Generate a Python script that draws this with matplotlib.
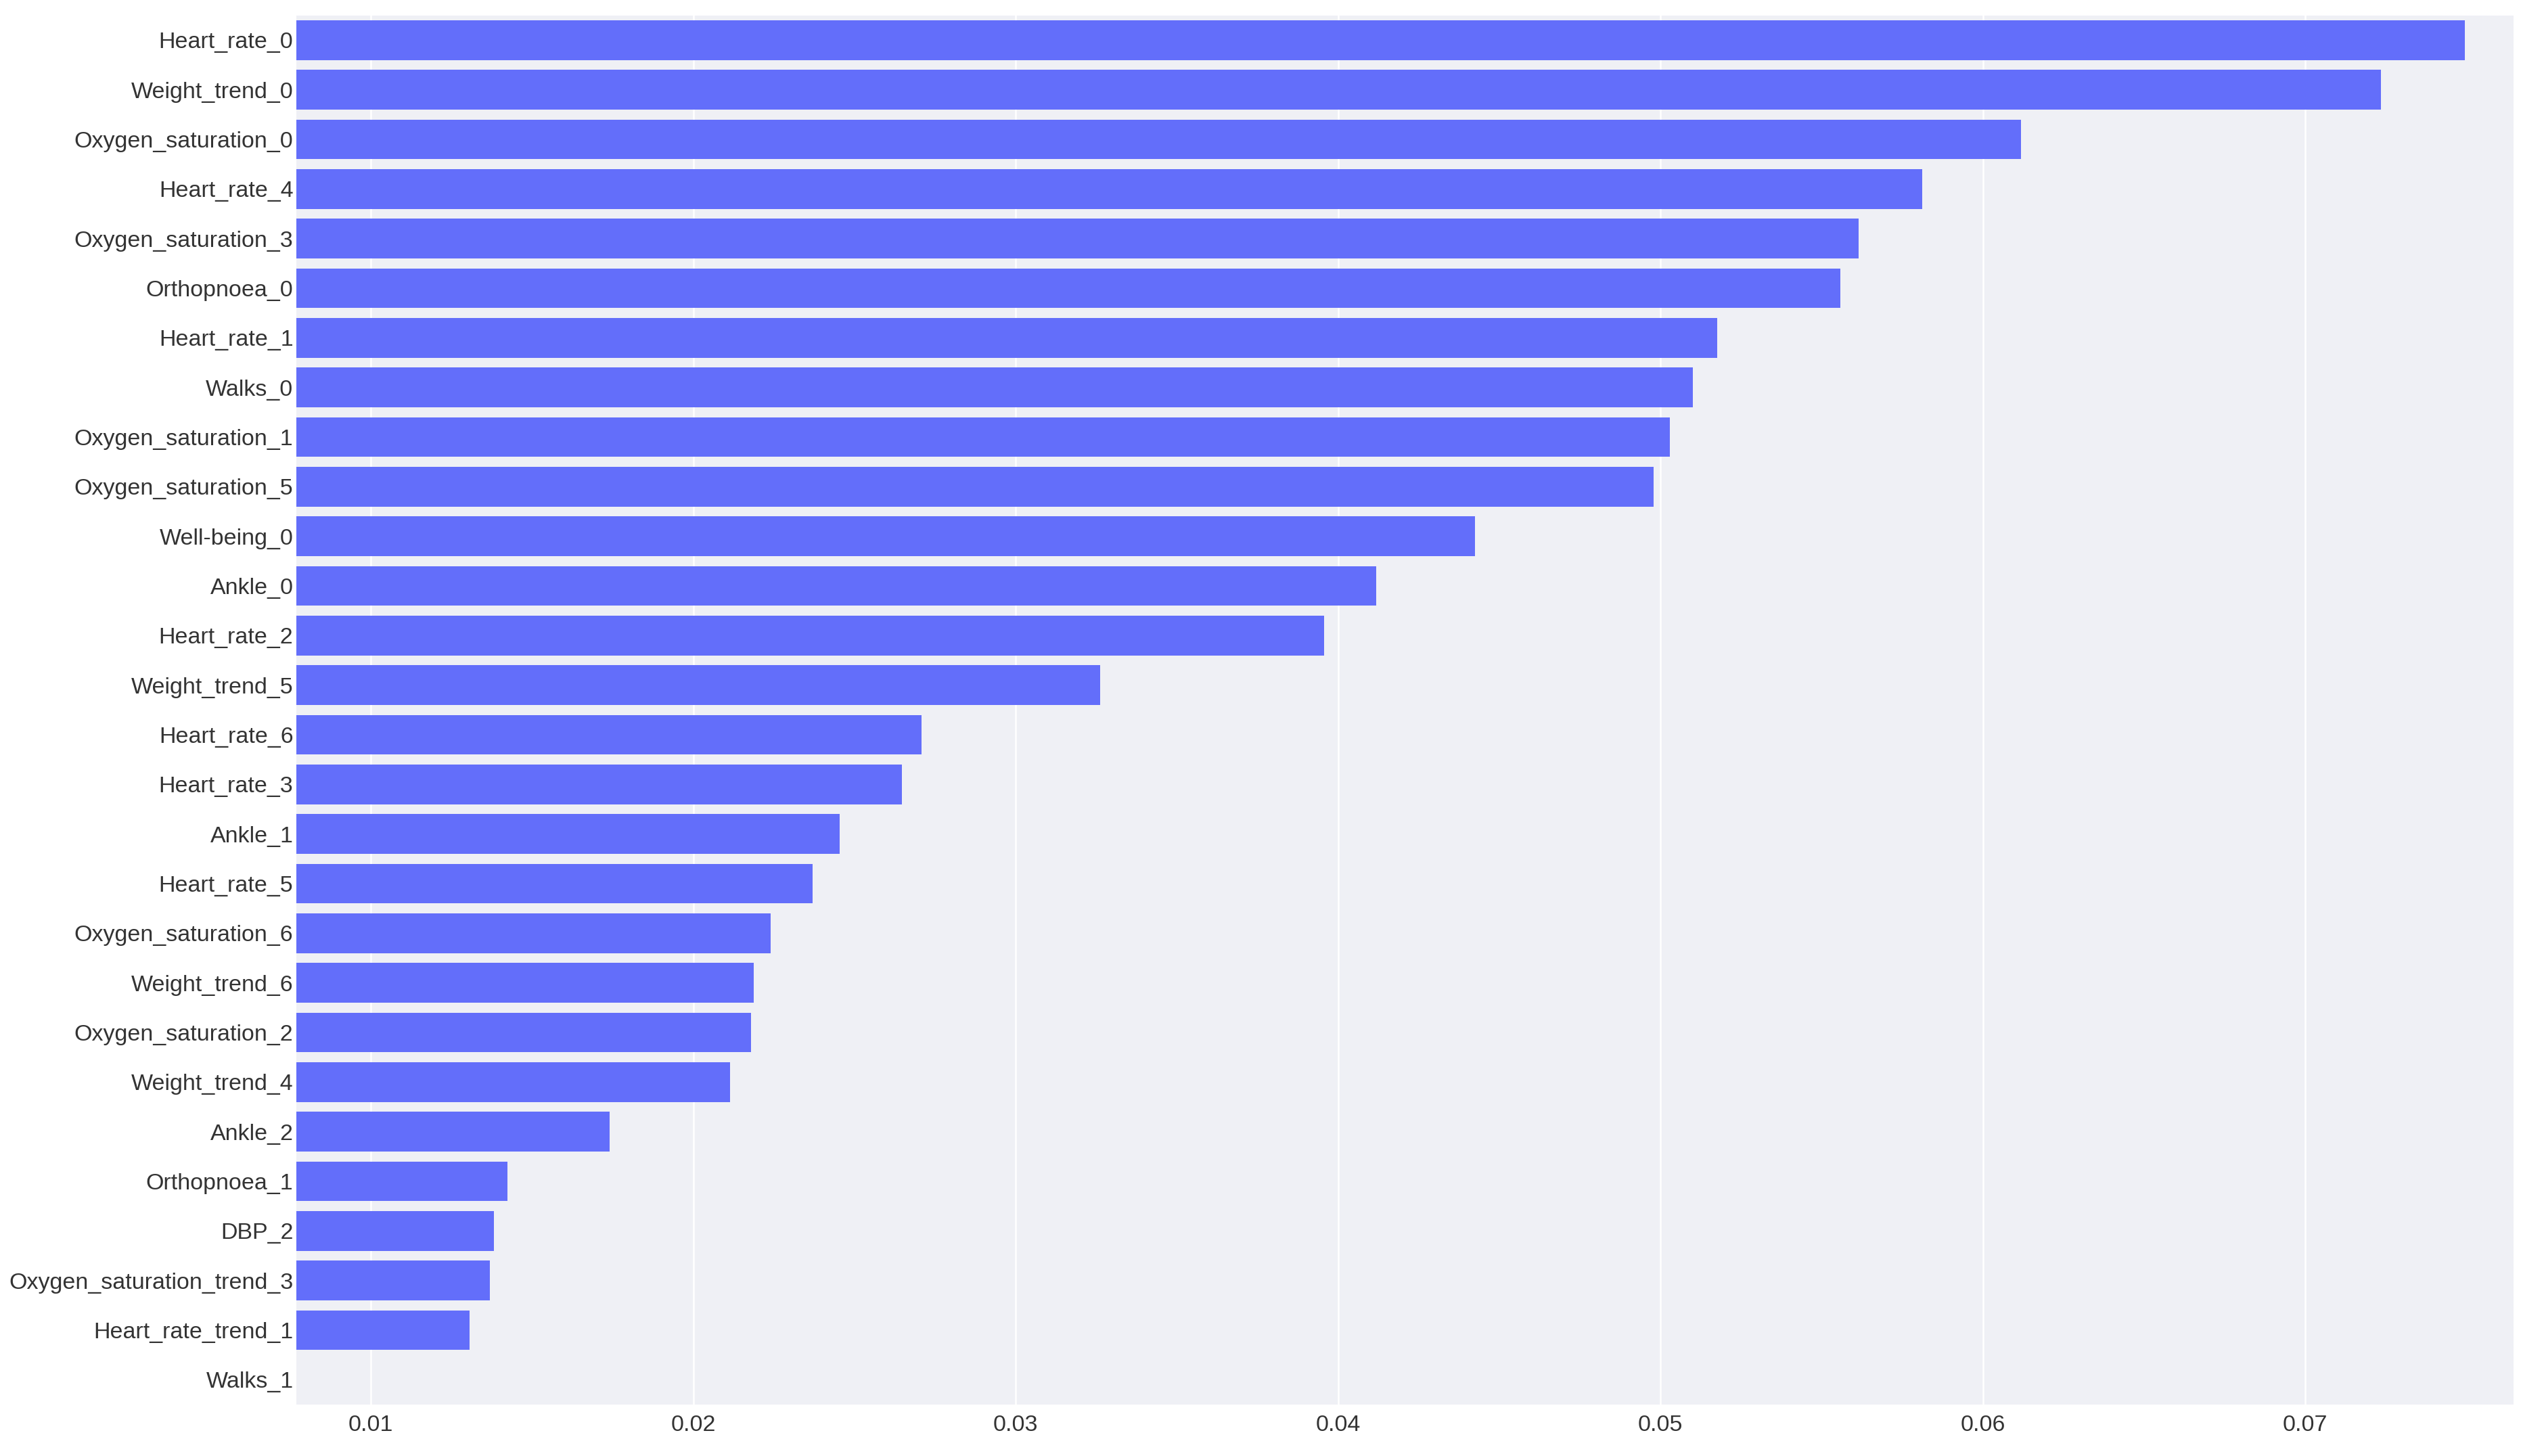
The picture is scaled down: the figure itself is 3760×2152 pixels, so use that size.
import matplotlib.pyplot as plt

# feature importances, top to bottom
features = [
    "Heart_rate_0", "Weight_trend_0", "Oxygen_saturation_0", "Heart_rate_4",
    "Oxygen_saturation_3", "Orthopnoea_0", "Heart_rate_1", "Walks_0",
    "Oxygen_saturation_1", "Oxygen_saturation_5", "Well-being_0", "Ankle_0",
    "Heart_rate_2", "Weight_trend_5", "Heart_rate_6", "Heart_rate_3",
    "Ankle_1", "Heart_rate_5", "Oxygen_saturation_6", "Weight_trend_6",
    "Oxygen_saturation_2", "Weight_trend_4", "Ankle_2", "Orthopnoea_1",
    "DBP_2", "Oxygen_saturation_trend_3", "Heart_rate_trend_1", "Walks_1",
]
importance = [
    0.07496, 0.07235, 0.06118, 0.05811,
    0.05614, 0.05558, 0.05176, 0.05100,
    0.05030, 0.04979, 0.04425, 0.04118,
    0.03957, 0.03261, 0.02707, 0.02647,
    0.02455, 0.02369, 0.02239, 0.02188,
    0.02178, 0.02113, 0.01740, 0.01423,
    0.01382, 0.01368, 0.01305, 0.00768,
]
xticks = [0.01, 0.02, 0.03, 0.04, 0.05, 0.06, 0.07]

plt.rcParams['font.family'] = ['Liberation Sans', 'DejaVu Sans']

fig = plt.figure(figsize=(37.6, 21.52), dpi=100)
ax = fig.add_axes([0.1164, 0.0353, 0.9880 - 0.1164, 0.9895 - 0.0353])

ypos = list(range(len(features)))
ax.barh(ypos, importance, height=0.8, color="#636EFA", zorder=2)

ax.set_facecolor("#EFF0F5")
ax.set_xlim(min(importance), max(importance) * 1.02)
ax.set_ylim(len(features) - 0.5, -0.5)
ax.set_yticks(ypos)
ax.set_yticklabels(features)
ax.set_xticks(xticks)
ax.set_xticklabels([f"{t:.2f}" for t in xticks])
ax.grid(axis="x", color="white", linewidth=1.8, zorder=1)
ax.set_axisbelow(True)
for s in ax.spines.values():
    s.set_visible(False)
ax.tick_params(axis="y", length=0, pad=3, labelsize=24.5, labelcolor="#333333")
ax.tick_params(axis="x", length=0, pad=11, labelsize=24.5, labelcolor="#333333")

fig.savefig("out.png", dpi=100, facecolor="white")
